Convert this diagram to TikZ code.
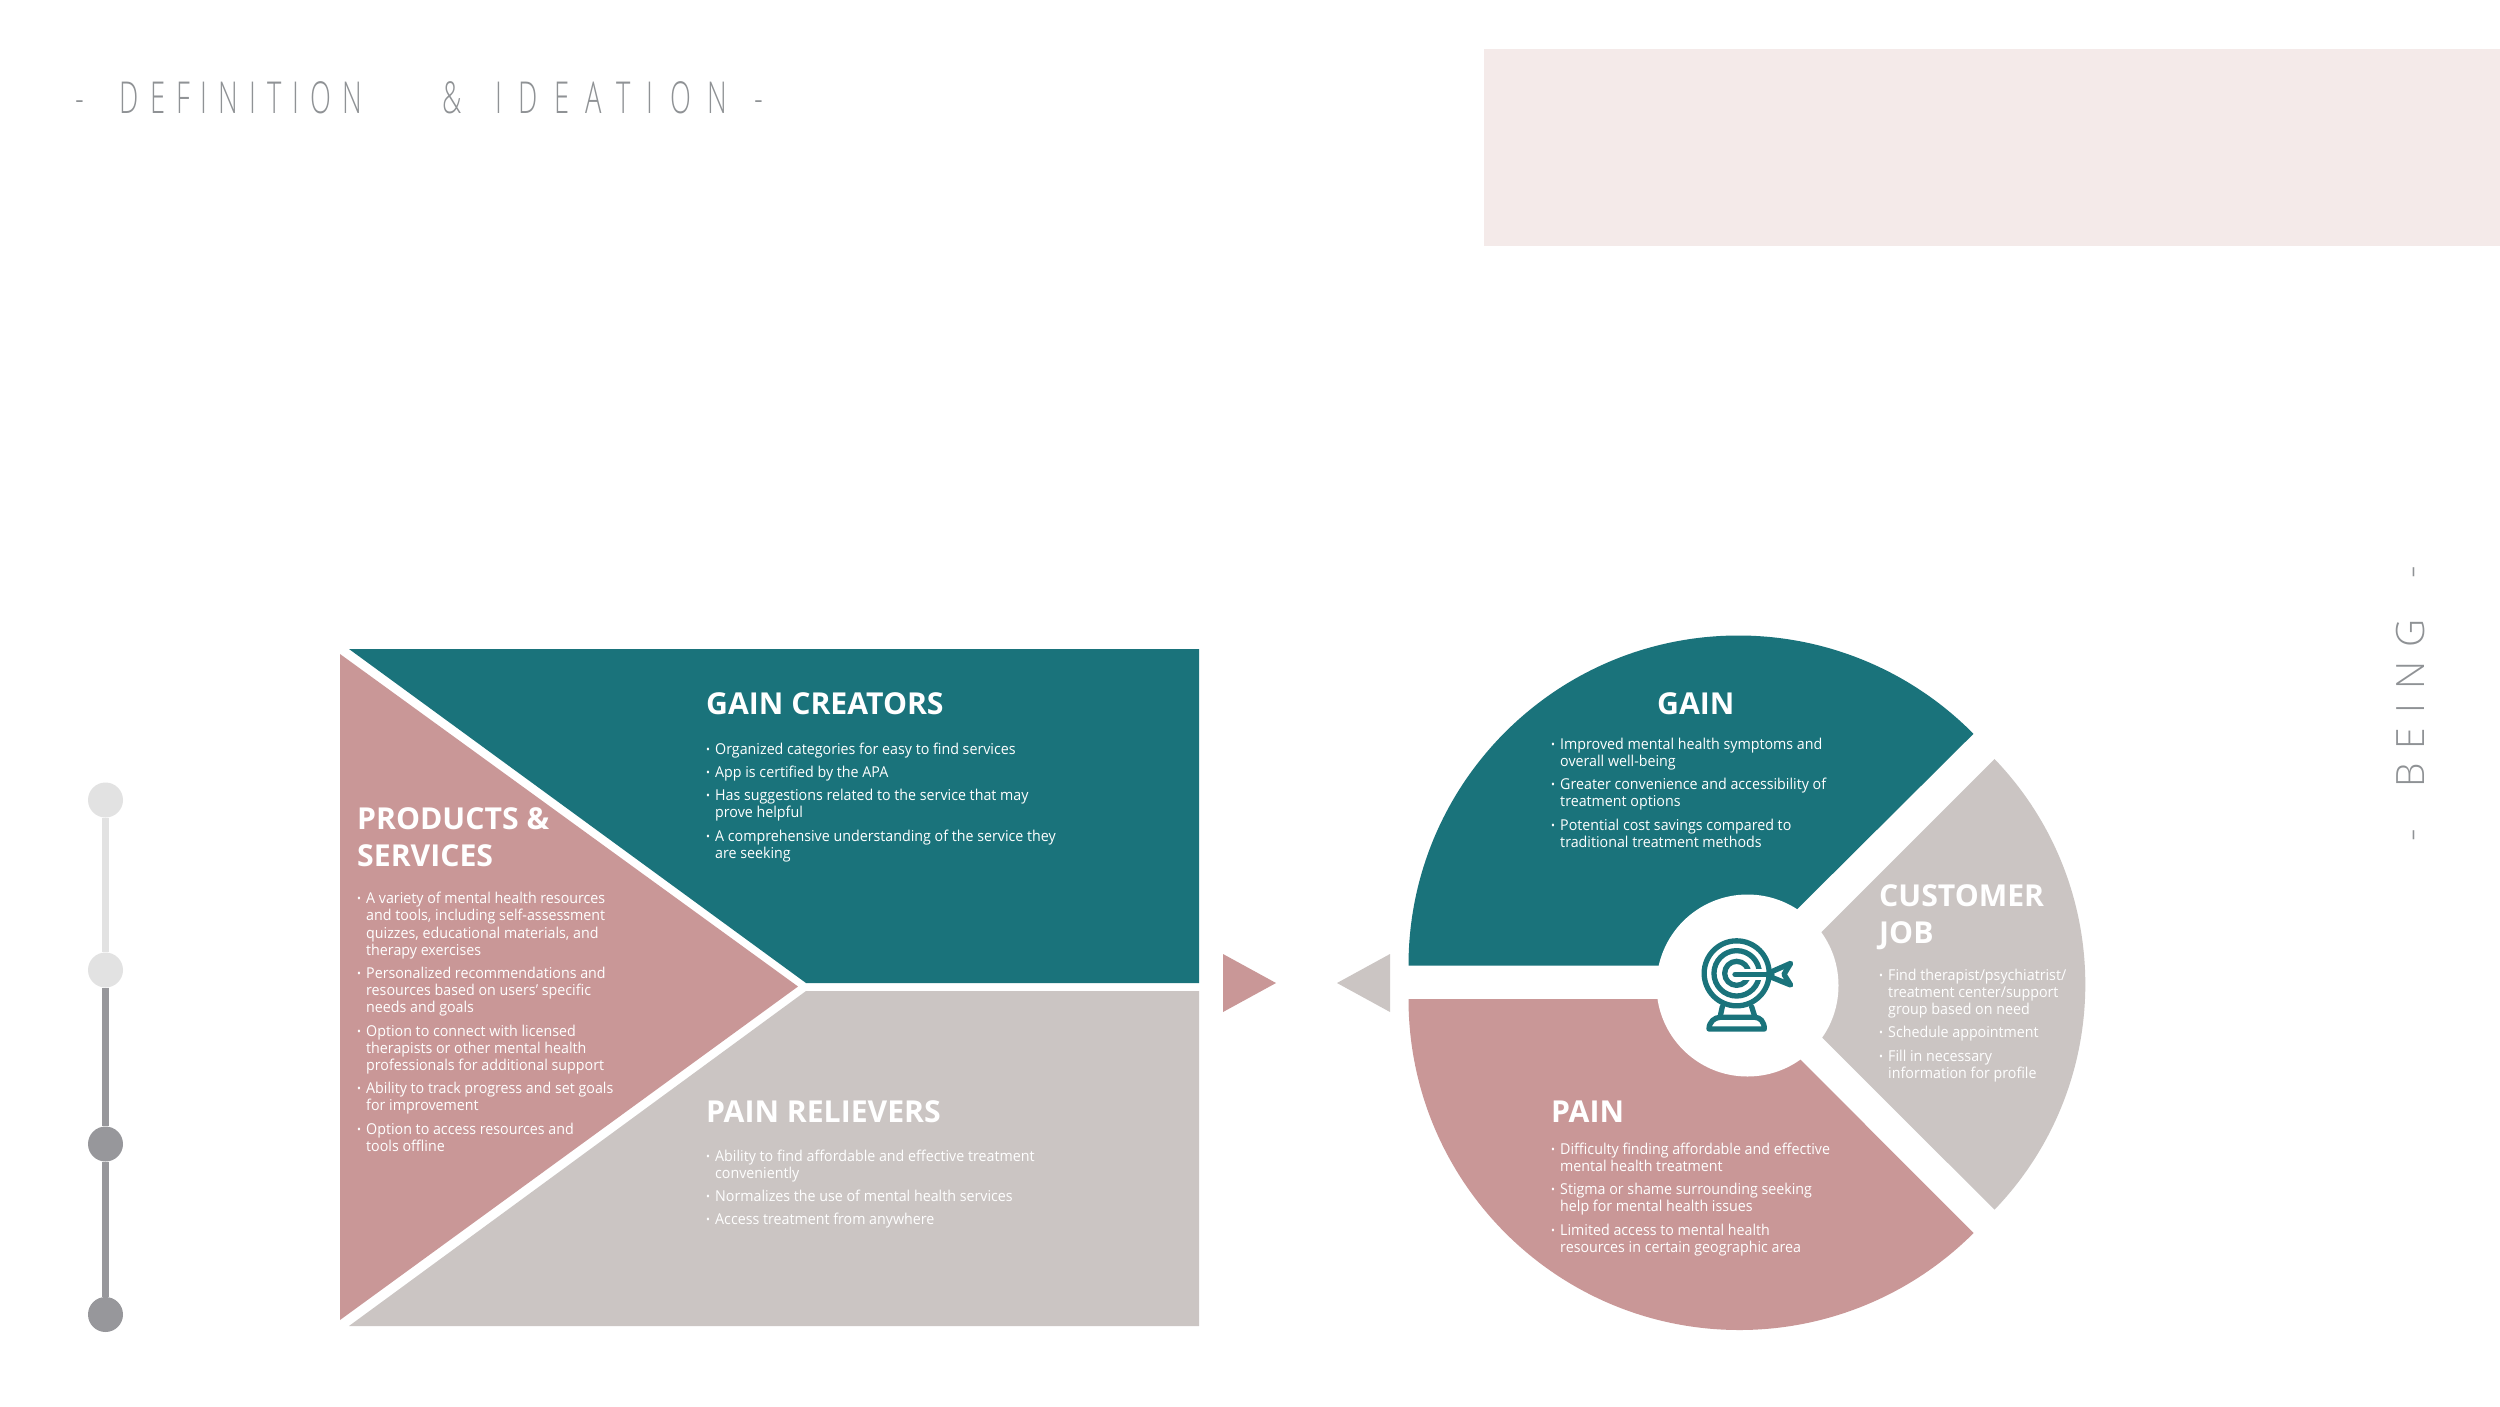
\documentclass[tikz,border=0pt]{standalone}
\usepackage{fontspec}
\setmainfont{Open Sans}
\newfontfamily\bodyfont[FakeStretch=0.95]{Open Sans}
\newfontfamily\titlefont[FakeStretch=0.62]{Open Sans Light}
\newfontfamily\sidefont[LetterSpace=36]{Open Sans Light}
\definecolor{teal1}{HTML}{1A737B}
\definecolor{pink1}{HTML}{C99797}
\definecolor{gray1}{HTML}{CBC5C3}
\definecolor{blush}{HTML}{F4EAE9}
\definecolor{dotlight}{HTML}{E2E2E2}
\definecolor{dotdark}{HTML}{97979B}
\definecolor{titlegray}{HTML}{8F9295}
\newcommand\bl{\makebox[9pt][l]{\rule{0pt}{12pt}\fontsize{11}{11}\selectfont\raisebox{1pt}{•}}}
\newcommand\ct{\hspace*{9pt}}
\newcommand\spaced[2]{{\addfontfeature{LetterSpace=#1}#2}}
\tikzset{
  x=1pt,y=-1pt,
  head/.style={anchor=base west,inner sep=0pt,text=white,font=\fontsize{30.2}{36.6}\selectfont\bfseries,align=left},
  items/.style={anchor=north west,inner sep=0pt,text=white,font=\fontsize{15}{17.2}\selectfont\bodyfont,align=left},
  dot/.style={circle,minimum size=35pt,inner sep=0pt,fill=#1},
  icon/.style={draw=teal1,line width=5.3pt,line cap=round,line join=round},
  title/.style={inner sep=0pt,text=titlegray}
}
\begin{document}
\begin{tikzpicture}
\useasboundingbox (0,0) rectangle (2500,1406);
\fill[white] (0,0) rectangle (2500,1406);
\fill[blush] (1484,49) rectangle (2500,246);
\node[title,anchor=base west,font=\fontsize{44}{44}\selectfont\titlefont] (t1) at (75,113) {-\hspace{36pt}\spaced{25}{DEFINITION}\hspace{80pt}\&\hspace{34pt}\spaced{37}{IDEATION}\hspace{28pt}-};
\node[title,rotate=90,font=\fontsize{39}{39}\selectfont\sidefont] (t2) at (2411,703.5) {-\hspace{41pt}BEING\hspace{41pt}-};

% timeline
\node[dot=dotlight] (d1) at (105.5,800) {};
\node[dot=dotlight] (d2) at (105.5,970) {};
\node[dot=dotdark] (d3) at (105.5,1144) {};
\node[dot=dotdark] (d4) at (105.5,1314.5) {};
\draw[dotlight,line width=6.5pt] (d1) -- (d2);
\draw[dotdark,line width=6.5pt] (d2) -- (d3);
\draw[dotdark,line width=6.5pt] (d3) -- (d4);

% canvas
\fill[teal1] (349,649) -- (1199,649) -- (1199,983) -- (806,983) -- cycle;
\fill[gray1] (806,991) -- (1199,991) -- (1199,1326) -- (349,1326) -- cycle;
\fill[pink1] (340,654) -- (798,986.5) -- (340,1320) -- cycle;

% triangles
\fill[pink1] (1223,954) -- (1276,983) -- (1223,1012) -- cycle;
\fill[gray1] (1390,954) -- (1337,983) -- (1390,1012) -- cycle;

% wheel
\fill[teal1] (1408.5,965.5) arc[start angle=180,end angle=315.4,radius=330] -- (1751,955) -- (1751,965.5) -- cycle;
\fill[pink1] (1408.5,999) arc[start angle=180,end angle=45,radius=331] -- (1751,1010) -- (1751,999) -- cycle;
\fill[gray1] (1994.5,759) arc[start angle=-43.9,end angle=43.9,radius=325] -- (1769,984.5) -- cycle;
\fill[white] (1747.5,985.5) circle[radius=91];

% icon
\begin{scope}[shift={(1640,880)},x=0.3333pt,y=-0.3333pt]
\draw[icon] (290,280) circle[radius=32.5pt];
\draw[icon] (290,280) circle[radius=22.7pt];
\draw[icon] (290,280) circle[radius=12pt];
\draw[white,line width=11pt] (300,283) -- (370,283);
\draw[icon] (285,283) -- (395,283);
\draw[icon] (395,275) -- (452,250) -- (432,283) -- (452,315) -- (395,292) -- cycle;
\draw[icon] (247,380) -- (240,412);
\draw[icon] (335,380) -- (345,412);
\draw[icon] (207,447) .. controls (207,425) and (225,412) .. (240,412) -- (345,412) .. controls (360,412) and (373,425) .. (373,447) -- cycle;
\end{scope}

% texts
\node[head] (h1) at (706,714.5) {GAIN CREATORS};
\node[items] (l1) at (706,742) {\bl Organized categories for easy to find services\\[6pt]
\bl App is certified by the APA\\[6pt]
\bl Has suggestions related to the service that may\\
\ct prove helpful\\[6pt]
\bl A comprehensive understanding of the service they\\
\ct are seeking};

\node[head] (h2) at (357,866) {PRODUCTS \&\\SERVICES};
\node[items] (l2) at (357,891.5) {\bl A variety of mental health resources\\
\ct and tools, including self-assessment\\
\ct quizzes, educational materials, and\\
\ct therapy exercises\\[6pt]
\bl Personalized recommendations and\\
\ct resources based on users’ specific\\
\ct needs and goals\\[6pt]
\bl Option to connect with licensed\\
\ct therapists or other mental health\\
\ct professionals for additional support\\[6pt]
\bl Ability to track progress and set goals\\
\ct for improvement\\[6pt]
\bl Option to access resources and\\
\ct tools offline};

\node[head] (h3) at (706,1122) {PAIN RELIEVERS};
\node[items] (l3) at (706,1149) {\bl Ability to find affordable and effective treatment\\
\ct conveniently\\[6pt]
\bl Normalizes the use of mental health services\\[6pt]
\bl Access treatment from anywhere};

\node[head] (h4) at (1657,714.5) {GAIN};
\node[items] (l4) at (1551,737) {\bl Improved mental health symptoms and\\
\ct overall well-being\\[6pt]
\bl Greater convenience and accessibility of\\
\ct treatment options\\[6pt]
\bl Potential cost savings compared to\\
\ct traditional treatment methods};

\node[head] (h5) at (1879,943) {CUSTOMER\\JOB};
\node[items] (l5) at (1879,968) {\bl Find therapist/psychiatrist/\\
\ct treatment center/support\\
\ct group based on need\\[6pt]
\bl Schedule appointment\\[6pt]
\bl Fill in necessary\\
\ct information for profile};

\node[head] (h6) at (1551,1122) {PAIN};
\node[items] (l6) at (1551,1142) {\bl Difficulty finding affordable and effective\\
\ct mental health treatment\\[6pt]
\bl Stigma or shame surrounding seeking\\
\ct help for mental health issues\\[6pt]
\bl Limited access to mental health\\
\ct resources in certain geographic area};
\end{tikzpicture}
\end{document}
